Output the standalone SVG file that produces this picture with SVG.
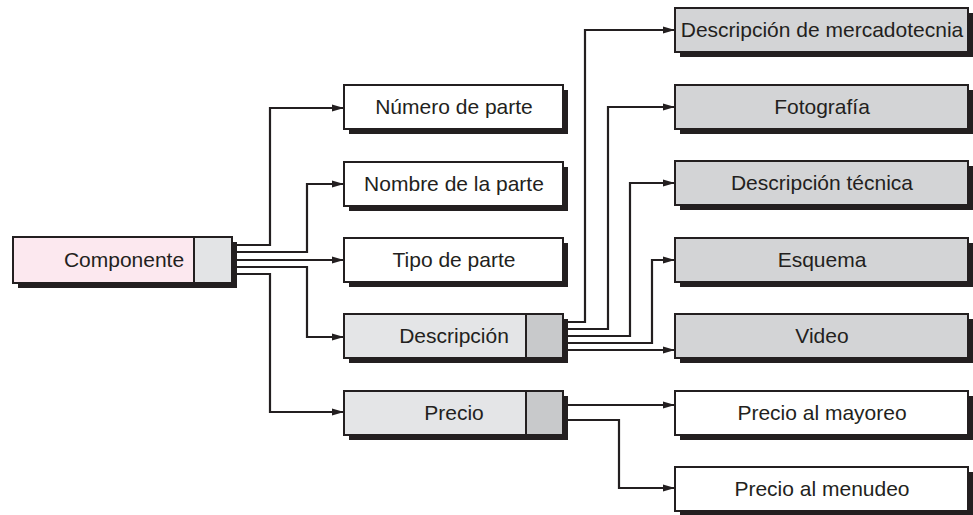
<svg xmlns="http://www.w3.org/2000/svg" width="973" height="515" viewBox="0 0 973 515">
<style>
.sh{fill:#231f20}
.bx{stroke:#231f20;stroke-width:2}
.w{fill:#ffffff}
.g{fill:#d3d4d6}
.lg{fill:#e4e5e7}
.dg{fill:#c8c9cb}
.pk{fill:#fce8ef}
.pg{fill:#e3e4e6}
.t{font-family:"Liberation Sans",Arial,sans-serif;font-size:21px;fill:#231f20;text-anchor:middle}
.c{fill:none;stroke:#231f20;stroke-width:2.2}
</style>
<defs>
<marker id="ah" markerUnits="userSpaceOnUse" markerWidth="13" markerHeight="8" refX="12" refY="4" orient="auto">
<path d="M0,0.5 L12,4 L0,7.5 z" fill="#231f20"/>
</marker>
</defs>
<rect width="973" height="515" fill="#ffffff"/>
<g id="connectors">
<path class="c" marker-end="url(#ah)" d="M236,245 H270 V108 H344"/>
<path class="c" marker-end="url(#ah)" d="M236,252 H307 V184 H344"/>
<path class="c" marker-end="url(#ah)" d="M236,260 H344"/>
<path class="c" marker-end="url(#ah)" d="M236,267 H307 V337 H344"/>
<path class="c" marker-end="url(#ah)" d="M236,274 H270 V412 H344"/>
<path class="c" marker-end="url(#ah)" d="M567,322 H585 V30 H675"/>
<path class="c" marker-end="url(#ah)" d="M567,329 H608 V107 H675"/>
<path class="c" marker-end="url(#ah)" d="M567,336 H630 V183 H675"/>
<path class="c" marker-end="url(#ah)" d="M567,343 H652 V260 H675"/>
<path class="c" marker-end="url(#ah)" d="M567,350 H675"/>
<path class="c" marker-end="url(#ah)" d="M567,405 H675"/>
<path class="c" marker-end="url(#ah)" d="M567,420 H619 V488 H675"/>
</g>
<g id="componente">
<rect class="sh" x="18" y="242" width="219" height="46"/>
<rect class="bx pk" x="13" y="237" width="181" height="46"/>
<rect class="bx pg" x="194" y="237" width="38" height="46"/>
<text class="t" x="124" y="267">Componente</text>
</g>
<g id="numero">
<rect class="sh" x="349" y="90" width="219" height="44"/>
<rect class="bx w" x="344" y="85" width="219" height="44"/>
<text class="t" x="454" y="114">Número de parte</text>
</g>
<g id="nombre">
<rect class="sh" x="349" y="167" width="219" height="44"/>
<rect class="bx w" x="344" y="162" width="219" height="44"/>
<text class="t" x="454" y="191">Nombre de la parte</text>
</g>
<g id="tipo">
<rect class="sh" x="349" y="243" width="219" height="44"/>
<rect class="bx w" x="344" y="238" width="219" height="44"/>
<text class="t" x="454" y="267">Tipo de parte</text>
</g>
<g id="descripcion">
<rect class="sh" x="349" y="319" width="219" height="44"/>
<rect class="bx lg" x="344" y="314" width="182" height="44"/>
<rect class="bx dg" x="526" y="314" width="37" height="44"/>
<text class="t" x="454" y="343">Descripción</text>
</g>
<g id="precio">
<rect class="sh" x="349" y="396" width="219" height="44"/>
<rect class="bx lg" x="344" y="391" width="182" height="44"/>
<rect class="bx dg" x="526" y="391" width="37" height="44"/>
<text class="t" x="454" y="420">Precio</text>
</g>
<g id="mercadotecnia">
<rect class="sh" x="680" y="13" width="293" height="44"/>
<rect class="bx g" x="675" y="8" width="293" height="44"/>
<text class="t" x="822" y="37">Descripción de mercadotecnia</text>
</g>
<g id="fotografia">
<rect class="sh" x="680" y="90" width="293" height="44"/>
<rect class="bx g" x="675" y="85" width="293" height="44"/>
<text class="t" x="822" y="114">Fotografía</text>
</g>
<g id="tecnica">
<rect class="sh" x="680" y="166" width="293" height="44"/>
<rect class="bx g" x="675" y="161" width="293" height="44"/>
<text class="t" x="822" y="190">Descripción técnica</text>
</g>
<g id="esquema">
<rect class="sh" x="680" y="243" width="293" height="44"/>
<rect class="bx g" x="675" y="238" width="293" height="44"/>
<text class="t" x="822" y="267">Esquema</text>
</g>
<g id="video">
<rect class="sh" x="680" y="319" width="293" height="44"/>
<rect class="bx g" x="675" y="314" width="293" height="44"/>
<text class="t" x="822" y="343">Video</text>
</g>
<g id="mayoreo">
<rect class="sh" x="680" y="396" width="293" height="44"/>
<rect class="bx w" x="675" y="391" width="293" height="44"/>
<text class="t" x="822" y="420">Precio al mayoreo</text>
</g>
<g id="menudeo">
<rect class="sh" x="680" y="472" width="293" height="44"/>
<rect class="bx w" x="675" y="467" width="293" height="44"/>
<text class="t" x="822" y="496">Precio al menudeo</text>
</g>
</svg>
